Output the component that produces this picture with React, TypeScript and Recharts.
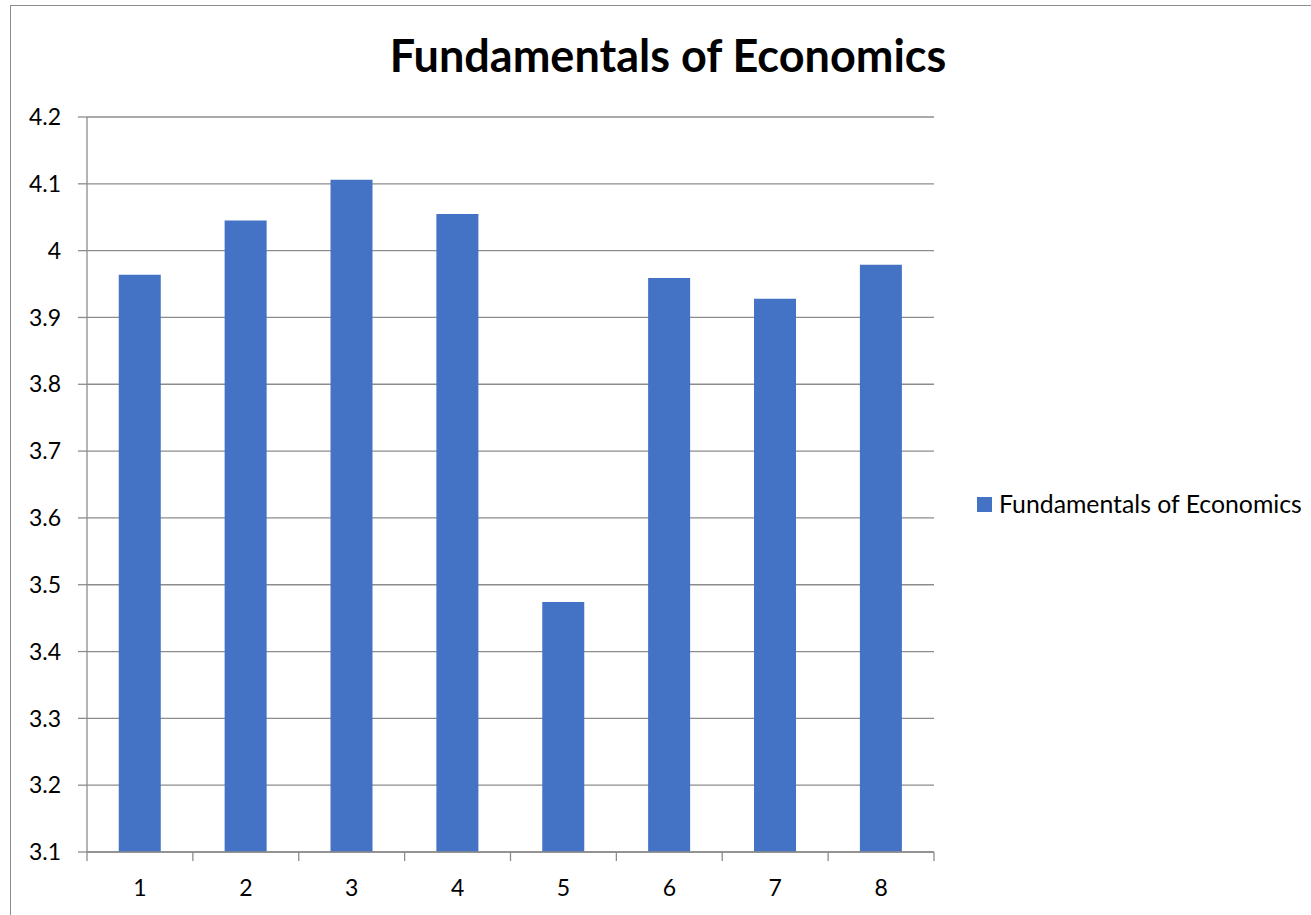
import { BarChart, Bar, XAxis, YAxis, CartesianGrid, Legend } from 'recharts';

const categories = ['1', '2', '3', '4', '5', '6', '7', '8'];
const scores = [3.964, 4.045, 4.106, 4.055, 3.474, 3.959, 3.928, 3.979];
const yTicks = [3.1, 3.2, 3.3, 3.4, 3.5, 3.6, 3.7, 3.8, 3.9, 4.0, 4.1, 4.2];

const seriesName = 'Fundamentals of Economics';
const chartTitle = 'Fundamentals of Economics';

const data = categories.map((name, i) => ({ name, value: scores[i] }));

const FONT = 'Lato, "Open Sans", sans-serif';
const GRID = '#8c8c8c';
const BLUE = '#4472C4';

const CategoryTick = (props: any) => {
  const { x, y, index, width, payload } = props;
  const step = width / categories.length;
  const left = x - step / 2;
  return (
    <g>
      <line x1={left} y1={y} x2={left} y2={y + 9} stroke={GRID} strokeWidth={1.3} />
      {index === categories.length - 1 && (
        <line x1={x + step / 2} y1={y} x2={x + step / 2} y2={y + 9} stroke={GRID} strokeWidth={1.3} />
      )}
      <text
        x={x}
        y={y + 44}
        textAnchor="middle"
        fill="#000"
        fontSize={23}
        fontFamily={FONT}
      >
        {payload.value}
      </text>
    </g>
  );
};

const LegendContent = () => (
  <div
    style={{
      display: 'flex',
      alignItems: 'center',
      fontFamily: FONT,
      fontSize: 24.8,
      lineHeight: '24px',
      color: '#000',
      whiteSpace: 'nowrap',
    }}
  >
    <span style={{ width: 15, height: 15, background: BLUE, marginRight: 7, display: 'inline-block' }} />
    <span>{seriesName}</span>
  </div>
);

const App = () => {
  return (
    <div
      style={{
        position: 'absolute',
        left: 0,
        top: 0,
        width: 1311,
        height: 915,
        overflow: 'hidden',
        background: '#fff',
      }}
    >
      <div
        style={{
          position: 'absolute',
          left: 10,
          top: 5,
          width: 1340,
          height: 940,
          border: `1px solid ${GRID}`,
        }}
      />
      <div style={{ position: 'absolute', left: 0, top: 0 }}>
        <BarChart
          width={1311}
          height={915}
          data={data}
          margin={{ top: 117, right: 377, bottom: 33, left: 27 }}
          barCategoryGap="30%"
        >
          <text
            x={668}
            y={72}
            textAnchor="middle"
            fontFamily={FONT}
            fontWeight={700}
            fontSize={45}
            fill="#000"
          >
            {chartTitle}
          </text>
          <CartesianGrid vertical={false} stroke={GRID} strokeWidth={1.3} />
          <XAxis
            dataKey="name"
            height={30}
            tickLine={false}
            tickSize={0}
            tickMargin={0}
            axisLine={{ stroke: GRID, strokeWidth: 1.3 }}
            tick={<CategoryTick />}
            interval={0}
          />
          <YAxis
            width={60}
            domain={[3.1, 4.2]}
            ticks={yTicks}
            interval={0}
            allowDataOverflow
            tickSize={9}
            tickMargin={17}
            tickFormatter={(v: number) => String(Number(v.toFixed(1)))}
            axisLine={{ stroke: GRID, strokeWidth: 1.3 }}
            tickLine={{ stroke: GRID, strokeWidth: 1.3 }}
            tick={{ fill: '#000', fontSize: 23, fontFamily: FONT }}
          />
          <Legend
            layout="horizontal"
            verticalAlign="middle"
            align="center"
            content={<LegendContent />}
            wrapperStyle={{ left: 977, top: 492, width: 334 }}
          />
          <Bar dataKey="value" name={seriesName} fill={BLUE} isAnimationActive={false} />
        </BarChart>
      </div>
    </div>
  );
};

export default App;
